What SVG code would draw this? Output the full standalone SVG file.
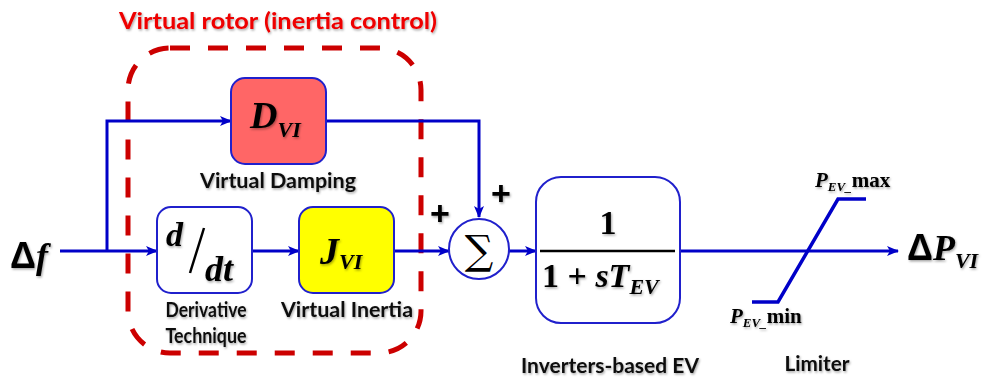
<svg xmlns="http://www.w3.org/2000/svg" width="989" height="379" viewBox="0 0 989 379">
<style>
.wire{fill:none;stroke:#0000C8;stroke-width:3}
.box{stroke:#2020CC;stroke-width:2}
.lbl{font-family:Lato,"Liberation Sans",Arial,sans-serif;font-weight:bold;fill:#111;font-size:20px}
.math{font-family:"Liberation Serif","Times New Roman",serif;font-weight:bold;font-style:italic;fill:#000}
.up{font-family:"Liberation Serif","Times New Roman",serif;font-weight:bold;fill:#000}
.plus{font-family:"Liberation Sans",Arial,sans-serif;font-weight:bold;font-size:34px;fill:#000}
.sh{filter:url(#sh)}
</style>
<defs>
<marker id="ah" viewBox="0 0 12 10" refX="11" refY="5" markerWidth="12" markerHeight="10" markerUnits="userSpaceOnUse" orient="auto">
<path d="M0,0 L12,5 L0,10 L3,5 Z" fill="#0000C8"/>
</marker>
<filter id="sh" x="-10%" y="-10%" width="120%" height="130%">
<feDropShadow dx="1" dy="1.5" stdDeviation="1" flood-color="#000" flood-opacity="0.35"/>
</filter>
</defs>
<rect width="989" height="379" fill="#fff"/>

<g id="virtual-rotor">
<rect x="128" y="48" width="293" height="305" rx="42" fill="none" stroke="#CC0000" stroke-width="5" stroke-dasharray="20 18"/>
<text x="278" y="29" text-anchor="middle" font-family="Lato,'Liberation Sans',Arial,sans-serif" font-weight="bold" font-size="23" fill="#EE0000" textLength="318" lengthAdjust="spacingAndGlyphs" class="sh">Virtual rotor (inertia control)</text>
</g>

<g id="connectors">
<path class="wire" d="M60,251 H157" marker-end="url(#ah)"/>
<path class="wire" d="M107,251 V121 H231" marker-end="url(#ah)"/>
<path class="wire" d="M326,121 H479 V217" marker-end="url(#ah)"/>
<path class="wire" d="M252,251 H299" marker-end="url(#ah)"/>
<path class="wire" d="M394,251 H449" marker-end="url(#ah)"/>
<path class="wire" d="M509,251 H536" marker-end="url(#ah)"/>
<path class="wire" d="M680,251 H898" marker-end="url(#ah)"/>
</g>

<g id="input">
<text x="10" y="268" font-size="36" class="sh"><tspan font-family="'Liberation Sans',Arial,sans-serif" font-weight="bold">Δ</tspan><tspan class="math">f</tspan></text>
</g>

<g id="damping">
<rect class="box" x="231" y="78" width="95" height="86" rx="14" fill="#FF6666"/>
<text x="250" y="128" class="math sh" font-size="38">D<tspan font-size="22" dy="9">VI</tspan></text>
<text x="278" y="188" text-anchor="middle" class="lbl sh" textLength="156" lengthAdjust="spacingAndGlyphs">Virtual Damping</text>
</g>

<g id="derivative">
<rect class="box" x="157" y="207" width="95" height="86" rx="14" fill="#fff"/>
<text x="166" y="246" class="math sh" font-size="34">d</text>
<line x1="190" y1="273" x2="204" y2="228" stroke="#000" stroke-width="2.5"/>
<text x="205" y="281" class="math sh" font-size="36">dt</text>
<text x="206" y="317" text-anchor="middle" class="lbl sh" font-size="16" textLength="81" lengthAdjust="spacingAndGlyphs">Derivative</text>
<text x="206" y="343" text-anchor="middle" class="lbl sh" font-size="16" textLength="81" lengthAdjust="spacingAndGlyphs">Technique</text>
</g>

<g id="inertia">
<rect class="box" x="299" y="207" width="95" height="86" rx="14" fill="#FFFF00"/>
<text x="320" y="264" class="math sh" font-size="38">J<tspan font-size="22" dy="5">VI</tspan></text>
<text x="347" y="317" text-anchor="middle" class="lbl sh" textLength="132" lengthAdjust="spacingAndGlyphs">Virtual Inertia</text>
</g>

<g id="sum">
<circle class="box" cx="479" cy="249" r="30" fill="#fff"/>
<text x="479" y="264" text-anchor="middle" font-family="'DejaVu Serif',serif" font-size="40" fill="#000">∑</text>
<text x="440" y="225" text-anchor="middle" class="plus sh">+</text>
<text x="501" y="205" text-anchor="middle" class="plus sh">+</text>
</g>

<g id="ev">
<rect class="box" x="536" y="177" width="144" height="146" rx="25" fill="#fff"/>
<line x1="540" y1="251" x2="675" y2="251" stroke="#000" stroke-width="2.5"/>
<text x="608" y="234" text-anchor="middle" class="up sh" font-size="34">1</text>
<text x="542" y="287" class="sh" font-size="34"><tspan class="up">1 + </tspan><tspan class="math">sT</tspan><tspan class="math" font-size="22" dy="7">EV</tspan></text>
<text x="610" y="373" text-anchor="middle" class="lbl sh" textLength="178" lengthAdjust="spacingAndGlyphs">Inverters-based EV</text>
</g>

<g id="limiter">
<path d="M752,302 H778 L838,199 H866" fill="none" stroke="#0000C8" stroke-width="3.5"/>
<text x="815" y="187" class="sh" font-size="21"><tspan class="math">P</tspan><tspan class="math" font-size="13" dy="4">EV_</tspan><tspan class="up" dy="-4">max</tspan></text>
<text x="730" y="323" class="sh" font-size="21"><tspan class="math">P</tspan><tspan class="math" font-size="13" dy="4">EV_</tspan><tspan class="up" dy="-4">min</tspan></text>
<text x="817" y="371" text-anchor="middle" class="lbl sh" textLength="65" lengthAdjust="spacingAndGlyphs">Limiter</text>
</g>

<g id="output">
<text x="907" y="260" font-size="36" class="sh"><tspan font-family="'Liberation Sans',Arial,sans-serif" font-weight="bold">Δ</tspan><tspan class="math">P</tspan><tspan class="math" font-size="22" dy="8">VI</tspan></text>
</g>
</svg>
